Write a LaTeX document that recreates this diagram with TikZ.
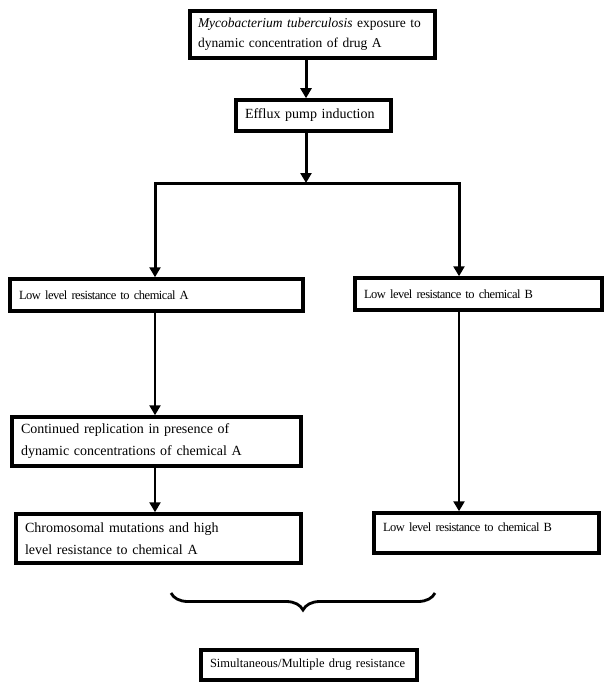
\documentclass[tikz,border=0pt]{standalone}
\usepackage{fontspec}
\setmainfont{Liberation Serif}
\newfontfamily\tightfont[LetterSpace=-4,WordSpace=0.8]{Liberation Serif}
\usetikzlibrary{arrows.meta}
\usetikzlibrary{decorations.pathreplacing}

\tikzset{
  stepbox/.style={draw, line width=3.5pt, inner xsep=9pt, inner ysep=0pt,
    align=left, font=\fontsize{12.5}{20}\selectfont},
  bigtext/.style={font=\fontsize{14}{22}\selectfont},
  tighttext/.style={font=\tightfont\fontsize{12.5}{20}\selectfont},
  flow/.style={line width=3pt, -{Triangle[length=10pt,width=11pt]}},
}

\begin{document}
\begin{tikzpicture}[x=1pt,y=-1pt]
        \useasboundingbox (0,0) rectangle (614,687);
        % boxes
        \node [stepbox, font=\fontsize{13.5}{20}\selectfont, minimum width=245pt, minimum height=47pt, text width=229pt, inner xsep=8pt] (expo) at (312.5,34.5)
            {\textit{Mycobacterium tuberculosis} exposure to\\dynamic concentration of drug A};
        \node [stepbox, bigtext, minimum width=155pt, minimum height=31pt, text width=137pt] (efflux) at (313.5,115.5)
            {Efflux pump induction};
        \node [stepbox, tighttext, minimum width=293pt, minimum height=32pt, text width=275pt] (lowA) at (156.5,295)
            {Low level resistance to chemical A};
        \node [stepbox, tighttext, minimum width=247pt, minimum height=32pt, text width=229pt] (lowB) at (478.5,294)
            {Low level resistance to chemical B};
        \node [stepbox, bigtext, minimum width=289pt, minimum height=49pt, text width=271pt] (contA) at (156.5,441.5)
            {Continued replication in presence of\\dynamic concentrations of chemical A};
        \node [stepbox, bigtext, minimum width=285pt, minimum height=49pt, text width=267pt] (chromA) at (158.5,538.5)
            {Chromosomal mutations and high\\level resistance to chemical A};
        \node [stepbox, tighttext, minimum width=225pt, minimum height=40pt, text width=207pt, text depth=12pt] (lowB2) at (486.5,533)
            {Low level resistance to chemical B};
        \node [stepbox, minimum width=216pt, minimum height=30pt, text width=198pt] (multi) at (309,665)
            {Simultaneous/Multiple drug resistance};
        % fork
        \coordinate (fork) at (306,183);
        \coordinate (forkL) at (155,183);
        \coordinate (forkR) at (459,183);
        \draw [flow] (expo.south -| fork) -- (efflux.north -| fork);
        \draw [flow] (efflux.south -| fork) -- (fork);
        \draw [line width=3pt, line cap=rect] (forkL) -- (forkR);
        \draw [flow] (forkL) -- (forkL |- lowA.north);
        \draw [flow] (forkR) -- (forkR |- lowB.north);
        \draw [flow, line width=2.5pt] (lowA.south -| forkL) -- (contA.north -| forkL);
        \draw [flow, line width=2.5pt] (contA.south -| forkL) -- (chromA.north -| forkL);
        \draw [flow, line width=2.5pt] (lowB.south -| forkR) -- (lowB2.north -| forkR);
        % brace
        \coordinate (braceL) at (171,593);
        \coordinate (braceR) at (435,593);
        \draw [line width=2.8pt, decorate, decoration={brace, amplitude=17pt}] (braceR) -- (braceL);
    \end{tikzpicture}
\end{document}
